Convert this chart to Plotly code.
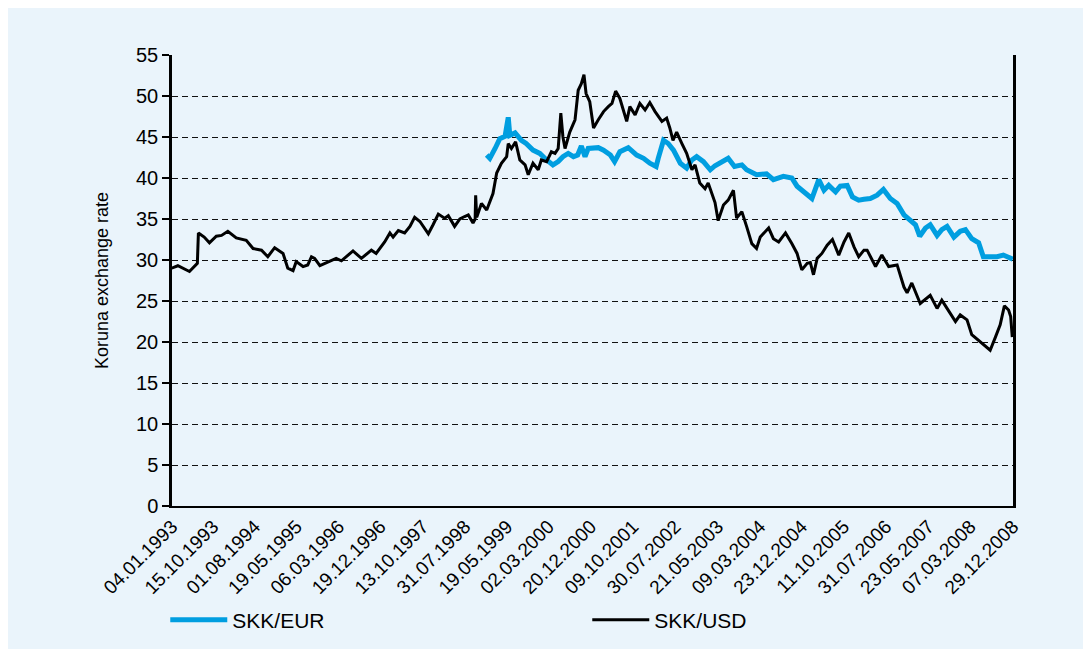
import plotly.graph_objects as go
import pandas as pd

usd_jahr = [1993.00, 1993.12, 1993.34, 1993.49, 1993.51, 1993.62, 1993.72, 1993.85, 1993.95, 1994.07,
            1994.23, 1994.42, 1994.55, 1994.71, 1994.83, 1994.96, 1995.12, 1995.21, 1995.31, 1995.37,
            1995.50, 1995.59, 1995.66, 1995.72, 1995.82, 1995.97, 1996.13, 1996.23, 1996.45, 1996.61,
            1996.80, 1996.89, 1997.05, 1997.15, 1997.21, 1997.31, 1997.43, 1997.53, 1997.62, 1997.72,
            1997.88, 1997.97, 1998.07, 1998.19, 1998.26, 1998.38, 1998.48, 1998.57, 1998.64, 1998.73,
            1998.77, 1998.78, 1998.80, 1998.89, 1998.99, 1999.11, 1999.18, 1999.27, 1999.37, 1999.40,
            1999.46, 1999.54, 1999.62, 1999.72, 1999.78, 1999.87, 1999.97, 2000.03, 2000.13, 2000.22,
            2000.29, 2000.35, 2000.40, 2000.44, 2000.48, 2000.57, 2000.67, 2000.73, 2000.79, 2000.84,
            2000.88, 2000.95, 2001.02, 2001.11, 2001.21, 2001.30, 2001.37, 2001.44, 2001.52, 2001.65,
            2001.71, 2001.81, 2001.90, 2002.00, 2002.09, 2002.19, 2002.32, 2002.41, 2002.47, 2002.53,
            2002.60, 2002.70, 2002.79, 2002.89, 2002.95, 2003.04, 2003.14, 2003.20, 2003.28, 2003.33,
            2003.39, 2003.49, 2003.58, 2003.68, 2003.74, 2003.84, 2003.93, 2004.03, 2004.12, 2004.19,
            2004.35, 2004.44, 2004.54, 2004.67, 2004.79, 2004.89, 2004.98, 2005.08, 2005.14, 2005.20,
            2005.27, 2005.36, 2005.46, 2005.56, 2005.68, 2005.78, 2005.87, 2005.97, 2006.06, 2006.16,
            2006.22, 2006.38, 2006.50, 2006.63, 2006.79, 2006.92, 2006.98, 2007.07, 2007.23, 2007.42,
            2007.55, 2007.64, 2007.74, 2007.90, 2007.99, 2008.12, 2008.21, 2008.34, 2008.47, 2008.56,
            2008.66, 2008.75, 2008.83, 2008.91, 2008.95, 2008.98]
usd_kurs = [29.0, 29.3, 28.6, 29.6, 33.3, 32.8, 32.1, 32.9, 33.0, 33.5,
            32.7, 32.4, 31.4, 31.2, 30.4, 31.5, 30.8, 29.0, 28.7, 29.8,
            29.2, 29.4, 30.4, 30.2, 29.3, 29.7, 30.2, 29.9, 31.1, 30.2,
            31.2, 30.8, 32.2, 33.3, 32.8, 33.6, 33.3, 34.1, 35.2, 34.7,
            33.2, 34.3, 35.6, 35.1, 35.4, 34.1, 35.0, 35.3, 35.5, 34.5,
            35.0, 37.9, 35.2, 36.9, 36.1, 38.1, 40.6, 41.8, 42.6, 44.2,
            43.6, 44.4, 42.2, 41.6, 40.4, 41.8, 41.0, 42.2, 42.0, 43.2,
            43.0, 43.6, 47.9, 45.0, 43.6, 45.6, 47.1, 50.7, 51.5, 52.6,
            50.3, 49.3, 46.1, 47.1, 48.1, 48.7, 49.1, 50.6, 49.7, 46.9,
            48.7, 47.7, 49.1, 48.3, 49.2, 48.1, 46.9, 47.3, 46.1, 44.6,
            45.6, 44.2, 43.0, 41.0, 41.6, 39.4, 38.7, 39.4, 37.9, 37.0,
            34.8, 36.7, 37.3, 38.5, 35.1, 35.9, 34.1, 32.0, 31.4, 32.8,
            33.9, 32.6, 32.2, 33.3, 32.0, 30.8, 28.8, 29.6, 29.7, 28.2,
            30.2, 30.8, 31.8, 32.5, 30.6, 32.2, 33.3, 31.6, 30.4, 31.2,
            31.2, 29.2, 30.6, 29.2, 29.4, 26.7, 26.0, 27.2, 24.7, 25.7,
            24.1, 25.1, 24.1, 22.5, 23.3, 22.7, 20.9, 20.2, 19.4, 19.0,
            20.6, 22.1, 24.4, 23.9, 23.1, 20.6]

eur_jahr = [1998.99, 1999.05, 1999.15, 1999.24, 1999.34, 1999.40, 1999.43, 1999.53, 1999.65, 1999.74,
            1999.87, 2000.00, 2000.13, 2000.25, 2000.35, 2000.44, 2000.54, 2000.64, 2000.72, 2000.79,
            2000.86, 2000.92, 2001.11, 2001.21, 2001.34, 2001.42, 2001.52, 2001.68, 2001.84, 2001.97,
            2002.09, 2002.21, 2002.25, 2002.35, 2002.44, 2002.54, 2002.67, 2002.79, 2002.89, 2002.98,
            2003.11, 2003.24, 2003.33, 2003.45, 2003.58, 2003.70, 2003.84, 2003.93, 2004.12, 2004.31,
            2004.44, 2004.63, 2004.79, 2004.89, 2005.05, 2005.17, 2005.30, 2005.40, 2005.49, 2005.62,
            2005.71, 2005.84, 2005.94, 2006.06, 2006.16, 2006.28, 2006.41, 2006.53, 2006.66, 2006.79,
            2006.92, 2007.05, 2007.14, 2007.22, 2007.33, 2007.42, 2007.55, 2007.64, 2007.74, 2007.87,
            2007.99, 2008.09, 2008.21, 2008.34, 2008.43, 2008.56, 2008.69, 2008.81, 2008.91, 2008.99]
eur_kurs = [42.8, 42.4, 43.6, 44.8, 45.1, 47.4, 45.2, 45.5, 44.6, 44.2,
            43.4, 43.0, 42.2, 41.6, 42.0, 42.6, 43.0, 42.6, 42.8, 43.9,
            42.6, 43.6, 43.7, 43.4, 42.8, 42.0, 43.2, 43.7, 42.8, 42.4,
            41.8, 41.4, 42.4, 44.6, 44.2, 43.4, 41.8, 41.2, 42.2, 42.6,
            42.0, 41.0, 41.5, 41.9, 42.4, 41.4, 41.6, 41.0, 40.4, 40.5,
            39.8, 40.2, 40.0, 39.0, 38.1, 37.5, 39.8, 38.5, 39.1, 38.3,
            39.0, 39.1, 37.7, 37.3, 37.4, 37.5, 37.9, 38.6, 37.5, 36.9,
            35.5, 34.7, 34.3, 32.9, 33.9, 34.3, 33.0, 33.7, 34.1, 32.8,
            33.5, 33.7, 32.6, 32.1, 30.4, 30.4, 30.4, 30.6, 30.3, 30.1]

tick_labels = ["04.01.1993", "15.10.1993", "01.08.1994", "19.05.1995", "06.03.1996", "19.12.1996",
               "13.10.1997", "31.07.1998", "19.05.1999", "02.03.2000", "20.12.2000", "09.10.2001",
               "30.07.2002", "21.05.2003", "09.03.2004", "23.12.2004", "11.10.2005", "31.07.2006",
               "23.05.2007", "07.03.2008", "29.12.2008"]
y_ticks = [0, 5, 10, 15, 20, 25, 30, 35, 40, 45, 50, 55]


def zu_datum(jahre):
    # Dezimaljahr -> Zeitstempel
    out = []
    for j in jahre:
        y = int(j)
        out.append(pd.Timestamp(year=y, month=1, day=1) + pd.Timedelta(days=(j - y) * 365.25))
    return out


tick_vals = [pd.to_datetime(t, format="%d.%m.%Y") for t in tick_labels]

fig = go.Figure()
fig.add_trace(go.Scatter(x=zu_datum(eur_jahr), y=eur_kurs, mode="lines", name="SKK/EUR",
                         line=dict(color="#009ee0", width=5)))
fig.add_trace(go.Scatter(x=zu_datum(usd_jahr), y=usd_kurs, mode="lines", name="SKK/USD",
                         line=dict(color="#000000", width=3)))

schrift = "Liberation Sans, Arial, sans-serif"
fig.update_layout(
    width=1083, height=649,
    paper_bgcolor="#eaf4fb", plot_bgcolor="rgba(0,0,0,0)",
    margin=dict(l=164, r=78, t=47, b=151),
    font=dict(family=schrift, color="black", size=18),
    showlegend=True,
    legend=dict(orientation="h", x=-0.008, xanchor="left", y=-0.253, yanchor="middle",
                font=dict(size=21), entrywidth=350, entrywidthmode="pixels",
                itemwidth=57, bgcolor="rgba(0,0,0,0)"),
)
fig.update_xaxes(
    type="date", range=[tick_vals[0], tick_vals[-1]],
    tickmode="array", tickvals=tick_vals, ticktext=tick_labels, tickangle=-45,
    showgrid=False, showline=True, linecolor="black", linewidth=2, ticks="",
    tickfont=dict(size=19),
)
fig.update_yaxes(
    range=[0, 55], tickmode="array", tickvals=y_ticks,
    showgrid=True, gridcolor="#111111", gridwidth=1, griddash="6px,4px",
    showline=True, linecolor="black", linewidth=2.5, mirror=True,
    ticks="outside", ticklen=7, tickwidth=2, tickcolor="black",
    tickfont=dict(size=20), zeroline=False,
    title=dict(text="Koruna exchange rate", font=dict(size=18), standoff=23),
)

fig.write_html("out.html")
